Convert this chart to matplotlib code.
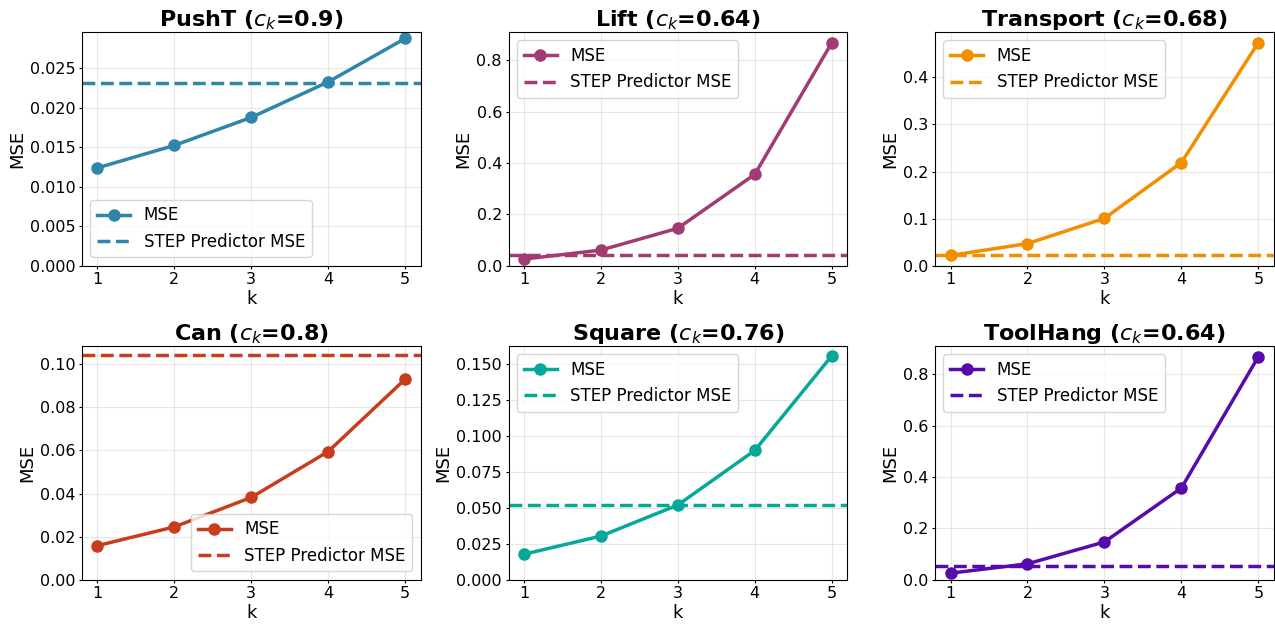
import matplotlib

matplotlib.use("Agg")
import matplotlib.pyplot as plt

k_values = [1, 2, 3, 4, 5]

task_names = ["PushT", "Lift", "Transport", "Can", "Square", "ToolHang"]
c_k = ["0.9", "0.64", "0.68", "0.8", "0.76", "0.64"]

pusht_mse = [0.0124, 0.01525, 0.0188, 0.0233, 0.0288]
lift_mse = [0.026, 0.061, 0.146, 0.356, 0.868]
transport_mse = [0.022, 0.047, 0.1006, 0.219, 0.4734]
can_mse = [0.0158, 0.0245, 0.0382, 0.0595, 0.0931]
square_mse = [0.0177, 0.0303, 0.0519, 0.0898, 0.1555]
toolhang_mse = [0.0255, 0.0618, 0.147, 0.357, 0.868]

step_mse = [0.0231, 0.041, 0.0232, 0.1041, 0.0521, 0.052]

colors = ["#2E86AB", "#A23B72", "#F18F01", "#C73E1D", "#06A89A", "#560BAD"]
legend_locs = ["lower left", "upper left", "upper left", "lower right", "upper left", "upper left"]

all_mse = [pusht_mse, lift_mse, transport_mse, can_mse, square_mse, toolhang_mse]

fig, axes = plt.subplots(2, 3, figsize=(12.75, 6.24), dpi=100)
fig.subplots_adjust(left=0.0643, right=0.999, top=0.9487, bottom=0.071, wspace=0.26, hspace=0.343)

for ax, name, ck, mse, step, color, loc in zip(
    axes.flat, task_names, c_k, all_mse, step_mse, colors, legend_locs
):
    ax.plot(k_values, mse, marker="o", markersize=8, linewidth=2.5, color=color, label="MSE")
    ax.axhline(step, color=color, linestyle="--", linewidth=2.5, label="STEP Predictor MSE")
    ax.set_ylim(bottom=0)
    ax.set_xticks(k_values)
    ax.set_xlabel("k", fontsize=13, labelpad=2.2)
    ax.set_ylabel("MSE", fontsize=13, labelpad=2.7)
    ax.set_title(f"{name} ($c_k$={ck})", fontsize=16, fontweight="bold", pad=4)
    ax.tick_params(labelsize=11.5, length=2.4, pad=2.4)
    ax.grid(True, alpha=0.3)
    ax.legend(loc=loc, fontsize=12)

fig.savefig("out.png", dpi=100)
